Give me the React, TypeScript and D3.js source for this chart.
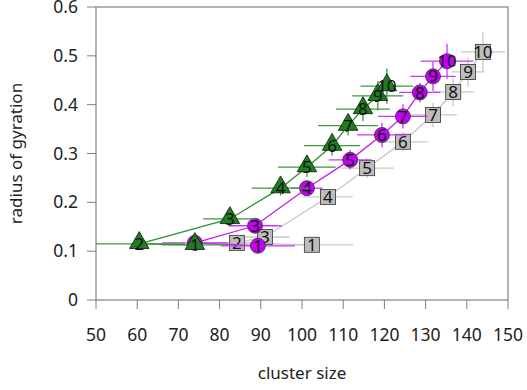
import React from "react";
import * as d3 from "d3";

// Labels of the points (simulation step index)
const pointLabels = ["1", "2", "3", "4", "5", "6", "7", "8", "9", "10"];

// Series A (green triangles)
const greenX = [74.0, 60.5, 82.5, 94.8, 101.2, 107.3, 111.2, 114.8, 118.4, 120.6];
const greenY = [0.113, 0.115, 0.166, 0.229, 0.272, 0.316, 0.357, 0.391, 0.418, 0.438];
const greenXErr = [8, 11, 6.5, 7, 7, 6.8, 7.3, 6.5, 6.2, 6.4];
const greenYErr = [0.01, 0.01, 0.015, 0.015, 0.02, 0.02, 0.02, 0.025, 0.03, 0.036];

// Series B (purple circles)
const purpleX = [89.3, 74.0, 88.6, 101.2, 111.7, 119.4, 124.5, 128.6, 131.8, 135.2];
const purpleY = [0.111, 0.117, 0.152, 0.229, 0.287, 0.338, 0.376, 0.425, 0.458, 0.489];
const purpleXErr = [9, 8, 6.5, 3.8, 5.2, 6, 6, 5, 5.5, 6.4];
const purpleYErr = [0.01, 0.01, 0.015, 0.015, 0.02, 0.025, 0.025, 0.02, 0.03, 0.036];

// Series C (gray squares)
const grayX = [102.4, 84.2, 91.0, 106.3, 115.8, 124.5, 131.8, 136.7, 140.3, 143.9];
const grayY = [0.113, 0.117, 0.129, 0.211, 0.27, 0.324, 0.379, 0.426, 0.467, 0.508];
const grayXErr = [10, 6, 6, 6, 6.5, 6, 5.8, 5, 4, 5.4];
const grayYErr = [0.01, 0.01, 0.015, 0.015, 0.02, 0.02, 0.025, 0.03, 0.03, 0.04];

const xTicks = [50, 60, 70, 80, 90, 100, 110, 120, 130, 140, 150];
const yTicks = [0, 0.1, 0.2, 0.3, 0.4, 0.5, 0.6];

const W = 527;
const H = 390;
const margin = { left: 96, right: 19, top: 7, bottom: 90 };
const FONT = "'Noto Sans', 'Open Sans', sans-serif";

type Pt = { x: number; y: number; ex: number; ey: number; label: string };

function build(xs: number[], ys: number[], exs: number[], eys: number[]): Pt[] {
  return xs.map((x, i) => ({ x, y: ys[i], ex: exs[i], ey: eys[i], label: pointLabels[i] }));
}

const seriesList = [
  { key: "gray", pts: build(grayX, grayY, grayXErr, grayYErr), line: "#c4c4c4", bar: "#c8c8c8", fill: "#bdbdbd", shape: "square" },
  { key: "purple", pts: build(purpleX, purpleY, purpleXErr, purpleYErr), line: "#c21cf2", bar: "#cc33ff", fill: "#c400f5", shape: "circle" },
  { key: "green", pts: build(greenX, greenY, greenXErr, greenYErr), line: "#2f8f2f", bar: "#3a9a3a", fill: "#1f7f1f", shape: "triangle" },
];

export default function App() {
  const x = d3.scaleLinear().domain([50, 150]).range([margin.left, W - margin.right]);
  const y = d3.scaleLinear().domain([0, 0.6]).range([H - margin.bottom, margin.top]);
  const line = d3
    .line<Pt>()
    .x((d) => x(d.x))
    .y((d) => y(d.y));
  const tri = d3.symbol(d3.symbolTriangle, 165)();

  const x0 = x.range()[0];
  const x1 = x.range()[1];
  const y0 = y.range()[0];
  const y1 = y.range()[1];

  return (
    <svg width={W} height={H} style={{ position: "absolute", left: 0, top: 0 }} fontFamily={FONT}>
      <defs>
        <clipPath id="plotClip">
          <rect x={x0} y={y1} width={x1 - x0} height={y0 - y1} />
        </clipPath>
      </defs>
      <rect x={0} y={0} width={W} height={H} fill="#fff" />
      {/* frame */}
      <rect x={x0} y={y1} width={x1 - x0} height={y0 - y1} fill="none" stroke="#808080" strokeWidth={1.2} />
      {/* x axis ticks */}
      {xTicks.map((t) => (
        <g key={"xt" + t}>
          <line x1={x(t)} x2={x(t)} y1={y0} y2={y0 + 9} stroke="#808080" strokeWidth={1} />
          <text x={x(t)} y={y0 + 41} textAnchor="middle" fontSize={17.5} fill="#222">
            {t}
          </text>
        </g>
      ))}
      {yTicks.map((t) => (
        <g key={"yt" + t}>
          <line x1={x0 - 9} x2={x0} y1={y(t)} y2={y(t)} stroke="#808080" strokeWidth={1} />
          <text x={x0 - 18} y={y(t)} dy="0.35em" textAnchor="end" fontSize={17.5} fill="#222">
            {t === 0 ? "0" : t.toFixed(1)}
          </text>
        </g>
      ))}
      <text x={(x0 + x1) / 2} y={379} textAnchor="middle" fontSize={17} fill="#222">
        cluster size
      </text>
      <text
        transform={`translate(22,${(y0 + y1) / 2}) rotate(-90)`}
        textAnchor="middle"
        fontSize={17}
        fill="#222"
      >
        radius of gyration
      </text>

      <g clipPath="url(#plotClip)">
        {seriesList.map((s) => (
          <g key={s.key}>
            <path d={line(s.pts) || ""} fill="none" stroke={s.line} strokeWidth={1.3} />
            {s.pts.map((p, i) => (
              <g key={"e" + i} stroke={s.bar} strokeWidth={1.3}>
                <line x1={x(p.x - p.ex)} x2={x(p.x + p.ex)} y1={y(p.y)} y2={y(p.y)} />
                <line x1={x(p.x)} x2={x(p.x)} y1={y(p.y - p.ey)} y2={y(p.y + p.ey)} />
              </g>
            ))}
            {s.pts.map((p, i) => {
              const cx = x(p.x);
              const cy = y(p.y);
              let mark;
              if (s.shape === "circle") {
                mark = <circle cx={cx} cy={cy} r={7.5} fill={s.fill} stroke="#333" strokeWidth={0.8} />;
              } else if (s.shape === "square") {
                mark = <rect x={cx - 7.5} y={cy - 7.5} width={15} height={15} fill={s.fill} stroke="#444" strokeWidth={0.9} />;
              } else {
                mark = <path d={tri || ""} transform={`translate(${cx},${cy - 1})`} fill={s.fill} stroke="#111" strokeWidth={0.8} />;
              }
              return (
                <g key={"m" + i}>
                  {mark}
                  <text x={cx} y={cy} dy="0.36em" textAnchor="middle" fontSize={17} fill="#111">
                    {p.label}
                  </text>
                </g>
              );
            })}
          </g>
        ))}
      </g>
    </svg>
  );
}
